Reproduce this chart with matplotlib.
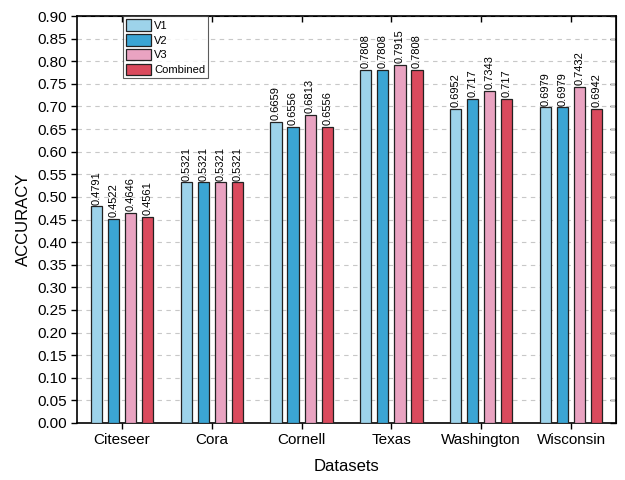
import numpy as np
import matplotlib
matplotlib.use('Agg')
import matplotlib.pyplot as plt

plt.rcParams['font.family'] = ['Liberation Sans', 'DejaVu Sans']

# Data
datasets = ['Citeseer', 'Cora', 'Cornell', 'Texas', 'Washington', 'Wisconsin']
v1 = [0.4791, 0.5321, 0.6659, 0.7808, 0.6952, 0.6979]
v2 = [0.4522, 0.5321, 0.6556, 0.7808, 0.717, 0.6979]
v3 = [0.4646, 0.5321, 0.6813, 0.7915, 0.7343, 0.7432]
combined = [0.4561, 0.5321, 0.6556, 0.7808, 0.717, 0.6942]
labels = ['V1', 'V2', 'V3', 'Combined']
colors = ['#9dd3ea', '#3ba5d4', '#e9a3c1', '#da4a5d']

series = [v1, v2, v3, combined]
value_text = [['0.4791', '0.5321', '0.6659', '0.7808', '0.6952', '0.6979'],
              ['0.4522', '0.5321', '0.6556', '0.7808', '0.717', '0.6979'],
              ['0.4646', '0.5321', '0.6813', '0.7915', '0.7343', '0.7432'],
              ['0.4561', '0.5321', '0.6556', '0.7808', '0.717', '0.6942']]

fig = plt.figure(figsize=(6.25, 4.8), dpi=100)
ax = fig.add_axes([77/625, 57/480, 539/625, 407/480])

x = np.arange(len(datasets))
step = 0.19
width = 0.125
for i, (vals, lab, col) in enumerate(zip(series, labels, colors)):
    pos = x + (i - 1.5) * step
    ax.bar(pos, vals, width, color=col, edgecolor='#222222', linewidth=0.9,
           label=lab, zorder=3)
    for p, v, t in zip(pos, vals, value_text[i]):
        ax.text(p, v + 0.004, t, rotation=90, ha='center', va='bottom',
                fontsize=8, zorder=4)

ax.set_xlim(-0.5, 5.5)
ax.set_ylim(0, 0.9)
ax.set_yticks(np.arange(0, 0.901, 0.05))
ax.set_yticklabels([f'{t:.2f}' for t in np.arange(0, 0.901, 0.05)])
ax.set_xticks(x)
ax.set_xticklabels(datasets)
ax.tick_params(axis='both', labelsize=11, direction='out', length=4, width=1)
ax.yaxis.grid(True, linestyle=(0, (4, 4)), color='#c8c8c8', linewidth=0.8, zorder=0)
ax.set_axisbelow(True)

# top/right ticks pointing inward
sec_x = ax.secondary_xaxis('top')
sec_x.set_xticks(x)
sec_x.set_xticklabels([])
sec_x.tick_params(direction='in', length=4, width=1)
sec_y = ax.secondary_yaxis('right')
sec_y.set_yticks(np.arange(0, 0.901, 0.05))
sec_y.set_yticklabels([])
sec_y.tick_params(direction='in', length=4, width=1)

for s in ax.spines.values():
    s.set_linewidth(1.2)

ax.set_xlabel('Datasets', fontsize=12, labelpad=8)
ax.set_ylabel('ACCURACY', fontsize=12, labelpad=4)

leg = ax.legend(loc='upper left', bbox_to_anchor=(0.085, 1.0), fontsize=8,
                frameon=True, fancybox=False, edgecolor='#333333',
                handlelength=2.2, handleheight=1.2, borderpad=0.3,
                labelspacing=0.3, handletextpad=0.3, borderaxespad=0)
leg.get_frame().set_linewidth(0.8)

fig.savefig('out.png', dpi=100)
